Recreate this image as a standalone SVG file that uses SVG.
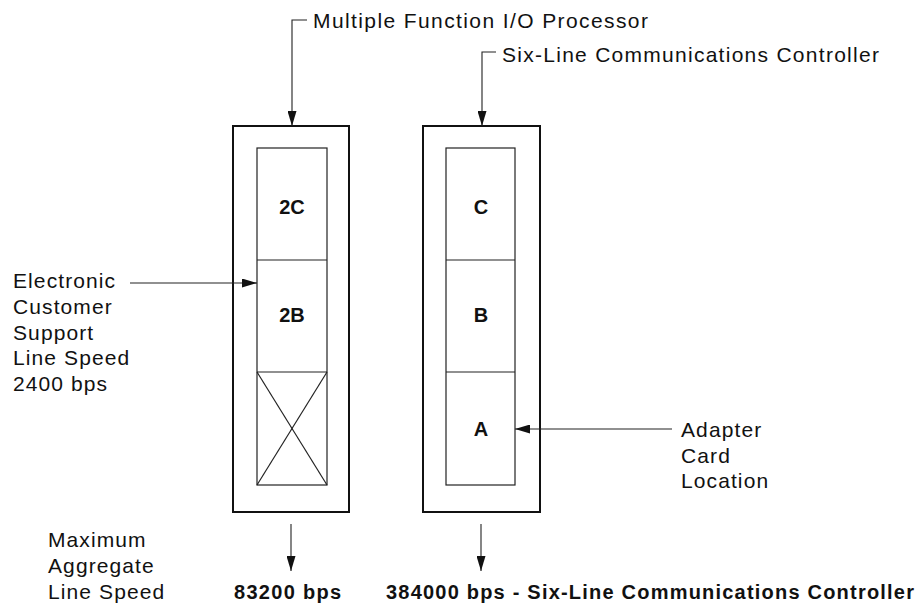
<svg xmlns="http://www.w3.org/2000/svg" width="918" height="605" viewBox="0 0 918 605">
<style>
.outer{fill:none;stroke:#111;stroke-width:2}
.inner{fill:none;stroke:#222;stroke-width:1.2}
.ln{fill:none;stroke:#222;stroke-width:1.1}
.t{font-family:"Liberation Sans",Arial,sans-serif;font-size:21px;fill:#111;letter-spacing:1.1px}
.b{font-family:"Liberation Sans",Arial,sans-serif;font-size:20px;font-weight:bold;fill:#111}
</style>
<defs>
<marker id="ah" markerWidth="16" markerHeight="9" refX="15" refY="4.5" orient="auto" markerUnits="userSpaceOnUse">
<path d="M0,0 L15,4.5 L0,9 Z" fill="#111"/>
</marker>
</defs>
<rect width="918" height="605" fill="#fff"/>
<g id="mfiop">
<rect class="outer" x="233" y="126" width="116" height="386"/>
<rect class="inner" x="257" y="148" width="70" height="337"/>
<line class="inner" x1="257" y1="260" x2="327" y2="260"/>
<line class="inner" x1="257" y1="372" x2="327" y2="372"/>
<line class="inner" x1="257" y1="372" x2="327" y2="485"/>
<line class="inner" x1="327" y1="372" x2="257" y2="485"/>
<text class="b" x="292" y="214" text-anchor="middle">2C</text>
<text class="b" x="292" y="322" text-anchor="middle">2B</text>
</g>
<g id="slcc">
<rect class="outer" x="423" y="126" width="117" height="386"/>
<rect class="inner" x="446" y="148" width="69" height="337"/>
<line class="inner" x1="446" y1="260" x2="515" y2="260"/>
<line class="inner" x1="446" y1="372" x2="515" y2="372"/>
<text class="b" x="481" y="214" text-anchor="middle">C</text>
<text class="b" x="481" y="322" text-anchor="middle">B</text>
<text class="b" x="481" y="436" text-anchor="middle">A</text>
</g>
<g id="connectors">
<polyline class="ln" points="307,20 292,20 292,126" marker-end="url(#ah)"/>
<polyline class="ln" points="496,52 482,52 482,126" marker-end="url(#ah)"/>
<line class="ln" x1="130" y1="283" x2="257" y2="283" marker-end="url(#ah)"/>
<line class="ln" x1="672" y1="429" x2="515" y2="429" marker-end="url(#ah)"/>
<line class="ln" x1="291" y1="524" x2="291" y2="571" marker-end="url(#ah)"/>
<line class="ln" x1="481" y1="524" x2="481" y2="571" marker-end="url(#ah)"/>
</g>
<g id="labels">
<text class="t" x="313" y="28" textLength="336">Multiple Function I/O Processor</text>
<text class="t" x="502" y="62" textLength="378">Six-Line Communications Controller</text>
<text class="t" x="13" y="288">Electronic</text>
<text class="t" x="13" y="314">Customer</text>
<text class="t" x="13" y="340">Support</text>
<text class="t" x="13" y="365">Line Speed</text>
<text class="t" x="13" y="391">2400 bps</text>
<text class="t" x="681" y="437">Adapter</text>
<text class="t" x="681" y="463">Card</text>
<text class="t" x="681" y="488">Location</text>
<text class="t" x="48" y="547">Maximum</text>
<text class="t" x="48" y="573">Aggregate</text>
<text class="t" x="48" y="599">Line Speed</text>
<text class="b" x="234" y="599" textLength="107">83200 bps</text>
<text class="b" x="386" y="599" textLength="528">384000 bps - Six-Line Communications Controller</text>
</g>
</svg>
